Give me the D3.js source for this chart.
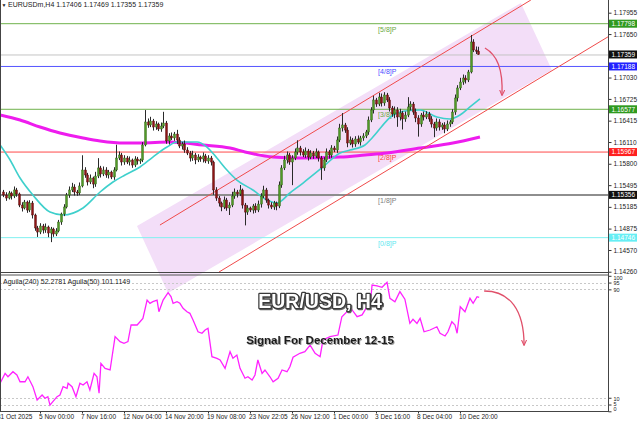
<!DOCTYPE html>
<html><head><meta charset="utf-8">
<script src="https://cdn.jsdelivr.net/npm/d3@7"></script>
<style>
html,body{margin:0;padding:0;background:#fff;}
svg{display:block;}
text{font-family:"Liberation Sans",Arial,sans-serif;}
</style></head><body>
<svg id="c" width="640" height="426"></svg>
<script>
// ---------- DATA ----------
const firstOpen = 1.15397;
const closes = [1.15354,1.15311,1.15383,1.15340,1.15426,1.15369,1.15211,1.15169,1.15254,1.15140,
 1.15240,1.15069,1.14884,1.14826,1.14912,1.14855,1.14898,1.14812,1.14869,1.14798,
 1.14841,1.14969,1.15083,1.15183,1.15354,1.15426,1.15468,1.15397,1.15383,1.15483,
 1.15711,1.15640,1.15540,1.15597,1.15511,1.15625,1.15740,1.15654,1.15711,1.15640,
 1.15682,1.15611,1.15711,1.15882,1.15925,1.15825,1.15882,1.15825,1.15854,1.15782,
 1.15868,1.15839,1.15854,1.16068,1.16396,1.16353,1.16410,1.16324,1.16367,1.16296,
 1.16338,1.16381,1.16125,1.16196,1.16168,1.16224,1.16139,1.16053,1.16082,1.15996,
 1.15953,1.15882,1.15925,1.15854,1.15896,1.15868,1.15911,1.15839,1.15882,1.15825,
 1.15426,1.15311,1.15240,1.15183,1.15283,1.15169,1.15211,1.15340,1.15397,1.15369,
 1.15426,1.15211,1.15111,1.15169,1.15140,1.15197,1.15140,1.15225,1.15340,1.15426,
 1.15283,1.15211,1.15183,1.15240,1.15197,1.15497,1.15740,1.15854,1.15925,1.15825,
 1.15882,1.15968,1.16025,1.15968,1.15925,1.15982,1.15896,1.15953,1.15911,1.15968,
 1.15882,1.15740,1.15854,1.15968,1.15925,1.16025,1.15996,1.16139,1.16310,1.16353,
 1.16281,1.16096,1.16139,1.16082,1.16153,1.16110,1.16168,1.16196,1.16253,1.16424,
 1.16567,1.16710,1.16652,1.16752,1.16667,1.16781,1.16710,1.16595,1.16510,1.16567,
 1.16467,1.16524,1.16439,1.16495,1.16610,1.16652,1.16538,1.16453,1.16367,1.16495,
 1.16467,1.16510,1.16439,1.16367,1.16310,1.16396,1.16324,1.16353,1.16296,1.16367,
 1.16396,1.16538,1.16738,1.16881,1.16966,1.17023,1.16995,1.17109,1.17537,1.17423,
 1.17406,1.17359];
const upperWickPips = [3,4,3,2,5,3,2,4,3,2,
 4,3,2,3,4,3,5,2,3,2, 4,3,2,4,3,5,6,4,3,5,
 21,4,3,5,2,6,14,3,5,4, 3,2,4,19,5,3,4,3,5,2,
 4,3,2,4,17,5,6,3,4,2, 5,16,3,4,5,3,6,4,3,5,
 4,3,6,3,4,2,5,3,4,3, 2,4,3,2,5,3,4,6,5,3,
 7,2,3,4,2,3,4,5,4,6, 3,2,4,3,2,5,4,6,5,3,
 4,5,11,3,4,5,3,4,3,5, 2,3,4,5,3,4,3,5,6,17,
 3,4,5,3,4,5,3,4,3,5, 4,6,3,6,5,4,3,4,3,5,
 4,6,3,5,14,4,3,5,4,3, 5,4,3,4,3,5,4,3,4,5,
 3,4,5,4,6,5,4,3,10,4, 5,6.3];
const lowerWickPips = [3,4,2,5,3,4,3,5,2,4,
 3,5,4,7,3,5,4,6,13,4, 3,2,4,3,2,4,3,5,4,3,
 2,4,5,3,6,4,3,5,3,4, 5,3,4,2,3,5,4,3,5,4,
 3,5,4,3,2,4,3,5,4,3, 4,3,4,5,3,4,6,3,5,4,
 3,5,4,6,3,4,5,3,4,5, 7,4,5,6,3,4,10,3,4,5,
 3,5,19,4,3,5,4,3,5,3, 4,5,3,4,6,3,4,3,5,4,
 33,3,4,5,3,4,5,3,4,3, 5,17,4,3,5,4,3,4,3,5,
 4,6,3,5,4,3,5,4,3,4, 3,5,4,3,5,4,3,5,4,6,
 14,5,15,4,3,5,4,6,18,4, 5,3,4,5,13,4,5,4,6,3,
 4,3,4,5,3,4,5,3,2,3, 4,0.4];

const priceTicks = [1.17955,1.17650,1.17030,1.16725,1.16415,1.16110,1.15800,1.15495,1.15185,1.14875,1.14570,1.14260];
const timeLabels = ["31 Oct 2025","5 Nov 00:00","7 Nov 16:00","12 Nov 04:00","14 Nov 20:00","19 Nov 08:00","23 Nov 22:05","26 Nov 12:00","1 Dec 00:00","3 Dec 16:00","8 Dec 04:00","10 Dec 20:00"];
const timeLabelBars = [-2,14,30,46,62,78,94,110,126,142,158,174];

const fibNames = ["[5/8]P","[4/8]P","[3/8]P","[2/8]P","[1/8]P","[0/8]P"];
const fibValues = [1.17798,1.17188,1.16577,1.15967,1.15356,1.14746];
const fibLineColors = ["#6fb24c","#5555ff","#6fb24c","#ff4a4a","#8e8e8e","#80f0f0"];
const fibBoxColors = ["#2f9a1f","#2222ff","#2f9a1f","#ff2020","#101010","#66eef4"];
const fibTextColors = ["#6aa83e","#4d4dff","#6aa83e","#ff4040","#808080","#60e8f0"];
const currentPrice = 1.17359;

const maSlowBars = [-1.2,6.4,14.0,21.6,30.4,36.9,46.4,52.1,63.5,76.1,86.4,92.1,102.8,113.0,128.3,137.8,146.2,158.8,171.3,181.6];
const maSlowVals = [1.16496,1.16424,1.16324,1.16239,1.16168,1.16125,1.16096,1.16096,1.16110,1.16068,1.16025,1.15968,1.15896,1.15882,1.15896,1.15925,1.15953,1.16025,1.16096,1.16182];
const maFastBars = [-1.2,2.6,6.4,11.3,17.8,22.8,30.4,36.9,41.8,46.4,52.1,57.0,62.4,66.2,73.8,77.6,81.4,85.2,89.0,95.1,100.5,104.3,109.2,114.2,121.8,128.3,132.1,137.8,140.5,148.5,153.0,158.8,165.2,170.2,174.0,177.8,181.6];
const maFastVals = [1.16068,1.15854,1.15597,1.15354,1.15111,1.15069,1.15169,1.15397,1.15540,1.15640,1.15754,1.15896,1.16039,1.16110,1.16110,1.16039,1.15882,1.15711,1.15568,1.15426,1.15283,1.15240,1.15383,1.15525,1.15754,1.15954,1.15996,1.16068,1.16168,1.16495,1.16553,1.16567,1.16467,1.16439,1.16495,1.16610,1.16724];

const oscBars = [-1.2,0.7,1.8,3.7,5.2,6.4,8.3,9.4,11.3,12.9,14.8,15.9,17.0,17.8,18.9,20.5,21.6,22.8,24.3,24.7,26.2,27.7,29.2,30.4,31.9,33.0,34.6,35.7,36.5,37.2,38.8,40.7,42.6,44.5,46.0,47.5,48.7,51.0,52.1,53.2,54.8,55.9,57.0,58.6,59.3,60.9,62.8,63.9,64.7,66.2,67.3,68.5,70.0,71.1,72.3,74.2,75.7,76.9,78.0,79.5,81.4,82.6,84.5,86.4,87.5,89.0,90.2,92.1,93.2,94.8,95.9,97.0,98.6,99.7,101.6,102.8,104.7,106.2,108.1,109.2,110.4,113.0,114.9,116.9,118.8,120.7,121.8,124.5,127.5,129.0,130.9,132.9,134.8,136.7,138.6,139.7,140.5,142.4,144.3,146.2,147.3,149.2,151.1,153.0,154.9,156.1,157.6,158.8,160.3,162.6,165.2,166.4,168.3,169.4,170.9,172.1,172.9,174.1,175.9,177.8,179.0,180.5,181.3];
const oscVals = [20.7,28.0,25.5,29.2,26.8,21.8,21.8,25.5,18.2,8.3,12.0,9.6,10.8,4.6,7.1,10.8,12.0,18.2,17.0,20.7,18.2,10.8,20.7,19.4,21.8,15.7,28.0,25.5,13.3,35.4,31.7,30.5,55.1,51.4,50.2,51.4,63.7,63.7,66.1,68.6,82.1,79.7,80.9,82.1,73.5,82.1,87.5,84.6,79.7,80.9,79.7,76.0,73.5,72.3,67.4,58.7,57.6,60.0,61.3,40.3,39.1,37.9,31.7,44.0,39.1,41.5,31.7,24.4,25.5,23.1,26.8,37.9,28.0,30.5,25.5,21.8,24.4,30.5,29.2,32.9,39.9,42.8,44.0,48.9,42.8,40.3,52.6,55.1,56.3,69.8,73.5,74.8,69.8,71.1,77.2,76.0,93.2,92.5,91.5,95.2,83.4,80.9,88.3,82.7,64.9,67.9,64.9,68.6,58.7,60.0,62.4,57.6,55.6,58.7,66.1,63.7,57.6,77.2,73.5,83.4,79.7,84.6,84.1];
const oscLevels = [100,95,90,10,5,0];
const oscLabelShift = [3.2,1.5,2.3,2.3,1.2,-0.6];
const oscDashed = [95,90,10,5];

// channel (bar index, price) and shaded box corners
const channelUpperBars = [59.7,201.0], channelUpperPrices = [1.14926,1.18136];
const channelLowerBars = [82.2,230.4], channelLowerPrices = [1.14256,1.17611];
const boxBars = [50.95,197.2,209.0,62.8], boxPrices = [1.14912,1.18093,1.17137,1.13956];
// forecast arrows (bar index, value)
const arrowMainBars = [183.5,188.1,190.4,190.0], arrowMainPrices = [1.17451,1.17351,1.17160,1.16781];
const arrowSubBars = [183.2,193.0,198.4,198.4], arrowSubVals = [88.8,88.8,74.8,49.0];

// ---------- SCALES ----------
const svg = d3.select("#c");
const W = 640, H = 426, plotR = 608, mainB = 272, subT = 274.5, subB = 411.5;
const x = d3.scaleLinear().domain([0,181]).range([3.25, 478.375]);
const y = d3.scaleLinear().domain([1.14256,1.18136]).range([mainB,0]);
const ys = d3.scaleLinear().domain([0,100]).range([411.3,275.8]);

const defs = svg.append("defs");
defs.append("clipPath").attr("id","cm").append("rect").attr("x",0).attr("y",0).attr("width",plotR).attr("height",mainB);
defs.append("clipPath").attr("id","cs").append("rect").attr("x",0).attr("y",subT).attr("width",plotR).attr("height",subB-subT);
defs.append("clipPath").attr("id","call").append("rect").attr("x",0).attr("y",0).attr("width",plotR).attr("height",subB);
defs.append("marker").attr("id","ah").attr("viewBox","0 0 10 10").attr("refX",8).attr("refY",5)
  .attr("markerWidth",5).attr("markerHeight",5).attr("orient","auto")
  .append("path").attr("d","M0,1 L9,5 L0,9").attr("fill","none").attr("stroke","#e0506a").attr("stroke-width",1.6);

svg.append("rect").attr("width",W).attr("height",H).attr("fill","#fff");

// shaded box
const boxPts = boxBars.map((b,i)=>[x(b), y(boxPrices[i])]);
svg.append("g").attr("clip-path","url(#call)").append("path")
  .attr("d", d3.line()(boxPts)+"Z").attr("fill","#f3def8");

const gm = svg.append("g").attr("clip-path","url(#cm)");
// fib lines
fibValues.forEach((v,k)=>{
  gm.append("line").attr("x1",0).attr("x2",plotR).attr("y1",y(v)).attr("y2",y(v))
    .attr("stroke",fibLineColors[k]).attr("stroke-width",k===4?2:1);
});
gm.append("line").attr("x1",0).attr("x2",plotR).attr("y1",y(currentPrice)+0.5).attr("y2",y(currentPrice)+0.5)
  .attr("stroke","#c4c4c4").attr("stroke-width",1);

// fib labels
fibValues.forEach((v,k)=>{
  gm.append("text").attr("x",x(142.8)).attr("y",y(v)+8).attr("font-size",7)
    .attr("fill",fibTextColors[k]).text(fibNames[k]);
});

// moving averages
const lineGen = d3.line().curve(d3.curveMonotoneX);
gm.append("path").attr("d", lineGen(maSlowBars.map((b,i)=>[x(b),y(maSlowVals[i])])))
  .attr("fill","none").attr("stroke","#ee1cee").attr("stroke-width",3);
gm.append("path").attr("d", lineGen(maFastBars.map((b,i)=>[x(b),y(maFastVals[i])])))
  .attr("fill","none").attr("stroke","#3fd0cc").attr("stroke-width",1.6);

// channel
gm.append("line").attr("x1",x(channelUpperBars[0])).attr("y1",y(channelUpperPrices[0]))
  .attr("x2",x(channelUpperBars[1])).attr("y2",y(channelUpperPrices[1])).attr("stroke","#f04a4a").attr("stroke-width",1);
gm.append("line").attr("x1",x(channelLowerBars[0])).attr("y1",y(channelLowerPrices[0]))
  .attr("x2",x(channelLowerBars[1])).attr("y2",y(channelLowerPrices[1])).attr("stroke","#f04a4a").attr("stroke-width",1);

// candles
const candles = closes.map((c,i)=>{
  const o = i===0 ? firstOpen : closes[i-1];
  const hi = Math.max(o,c) + upperWickPips[i]*0.0001;
  const lo = Math.min(o,c) - lowerWickPips[i]*0.0001;
  return {i,o,c,hi,lo};
});
const cg = gm.append("g");
candles.forEach(d=>{
  const cx = Math.round(x(d.i));
  cg.append("line").attr("x1",cx+0.5).attr("x2",cx+0.5).attr("y1",y(d.hi)).attr("y2",y(d.lo))
    .attr("stroke","#2a2a2a").attr("stroke-width",1);
  const top = y(Math.max(d.o,d.c)), bot = y(Math.min(d.o,d.c));
  cg.append("rect").attr("x",cx-0.5).attr("width",2).attr("y",top).attr("height",Math.max(1,bot-top))
    .attr("fill", d.c>=d.o ? "#4f9a25" : "#8e1414")
    .attr("stroke", d.c>=d.o ? "#2f5d14" : "#4a0a0a").attr("stroke-width",0.4);
});

// main arrow
const ap = arrowMainBars.map((b,i)=>[x(b),y(arrowMainPrices[i])]);
svg.append("path").attr("d",`M${ap[0]}C${ap[1]} ${ap[2]} ${ap[3]}`).attr("fill","none")
  .attr("stroke","#e0506a").attr("stroke-width",1.3).attr("marker-end","url(#ah)");

// ---------- SUB WINDOW ----------
const gs = svg.append("g").attr("clip-path","url(#cs)");
oscDashed.forEach(v=>{
  gs.append("line").attr("x1",0).attr("x2",plotR).attr("y1",Math.round(ys(v))+0.5).attr("y2",Math.round(ys(v))+0.5)
    .attr("stroke","#c8c8c8").attr("stroke-dasharray","2,2");
});
gs.append("path").attr("d", d3.line()(oscBars.map((b,i)=>[x(b),ys(oscVals[i])])))
  .attr("fill","none").attr("stroke","#ff22ff").attr("stroke-width",1.3);

const asp = arrowSubBars.map((b,i)=>[x(b),ys(arrowSubVals[i])]);
svg.append("path").attr("d",`M${asp[0]}C${asp[1]} ${asp[2]} ${asp[3]}`).attr("fill","none")
  .attr("stroke","#e0506a").attr("stroke-width",1.3).attr("marker-end","url(#ah)");

// ---------- AXES & BORDERS ----------
const ay = svg.append("g").attr("transform",`translate(${plotR+0.5},0)`)
  .call(d3.axisRight(y).tickValues(priceTicks).tickSize(3).tickPadding(2).tickFormat(d3.format(".5f")));
ay.select(".domain").remove();
ay.selectAll("text").attr("font-size",6.5).attr("fill","#222").attr("font-family","Liberation Sans");
ay.selectAll("line").attr("stroke","#333");

const as = svg.append("g").attr("transform",`translate(${plotR+0.5},0)`)
  .call(d3.axisRight(ys).tickValues(oscLevels).tickSize(3).tickPadding(2));
as.select(".domain").remove();
as.selectAll("text").attr("font-size",5.5).attr("fill","#222").attr("font-family","Liberation Sans")
  .attr("dy", null).attr("y", (v,k)=>oscLabelShift[k]);
as.selectAll("line").attr("stroke","#333");

const ax = svg.append("g").attr("transform",`translate(0,${subB})`)
  .call(d3.axisBottom(x).tickValues(timeLabelBars).tickSize(2).tickPadding(1)
  .tickFormat((d,k)=>timeLabels[k]));
ax.select(".domain").remove();
ax.selectAll("text").attr("font-size",6.5).attr("fill","#222").attr("text-anchor","start")
  .attr("dx",-1.5).attr("font-family","Liberation Sans");
ax.selectAll("line").attr("stroke","#333");

// borders
svg.append("line").attr("x1",plotR+0.5).attr("x2",plotR+0.5).attr("y1",0).attr("y2",subB+0.5).attr("stroke","#444");
svg.append("line").attr("x1",0).attr("x2",plotR+0.5).attr("y1",mainB+0.5).attr("y2",mainB+0.5).attr("stroke","#444");
svg.append("line").attr("x1",0).attr("x2",plotR+0.5).attr("y1",subT+0.5).attr("y2",subT+0.5).attr("stroke","#555");
svg.append("line").attr("x1",0).attr("x2",plotR+0.5).attr("y1",subB).attr("y2",subB).attr("stroke","#444");
svg.append("line").attr("x1",0.5).attr("x2",0.5).attr("y1",0).attr("y2",subB).attr("stroke","#444");

// price boxes
const boxVals = fibValues.concat([currentPrice]);
const boxCols = fibBoxColors.concat(["#101010"]);
boxVals.forEach((v,k)=>{
  const yy = y(v);
  svg.append("rect").attr("x",plotR+1).attr("y",yy-4).attr("width",28).attr("height",8).attr("fill",boxCols[k]);
  svg.append("text").attr("x",plotR+3.5).attr("y",yy+2.4).attr("font-size",6.5).attr("fill","#fff").text(d3.format(".5f")(v));
});

// titles
svg.append("text").attr("x",1.5).attr("y",6.5).attr("font-size",5).attr("fill","#222").text("▼");
svg.append("text").attr("x",8).attr("y",7).attr("font-size",7).attr("fill","#222")
  .text("EURUSDm,H4  1.17406 1.17469 1.17355 1.17359");
svg.append("text").attr("x",3).attr("y",284).attr("font-size",7).attr("fill","#222")
  .text("Aguila(240) 52.2781  Aguila(50) 101.1149");

// big labels
const big = svg.append("g").attr("font-family","Liberation Sans").attr("font-weight","bold").attr("text-anchor","middle");
big.append("text").attr("x",320).attr("y",308).attr("font-size",19.5).attr("fill","#fff").attr("stroke","#3a3a3a").attr("stroke-width",2.6)
  .attr("stroke-linejoin","round").attr("paint-order","stroke")
  .style("filter","drop-shadow(1.5px 1.5px 0.6px #666)").text("EUR/USD, H4");
big.append("text").attr("x",320).attr("y",344).attr("font-size",11.5).attr("fill","#1c1c1c")
  .style("filter","drop-shadow(1.2px 1.2px 0.5px #999)").text("Signal For December 12-15");
</script>
</body></html>
